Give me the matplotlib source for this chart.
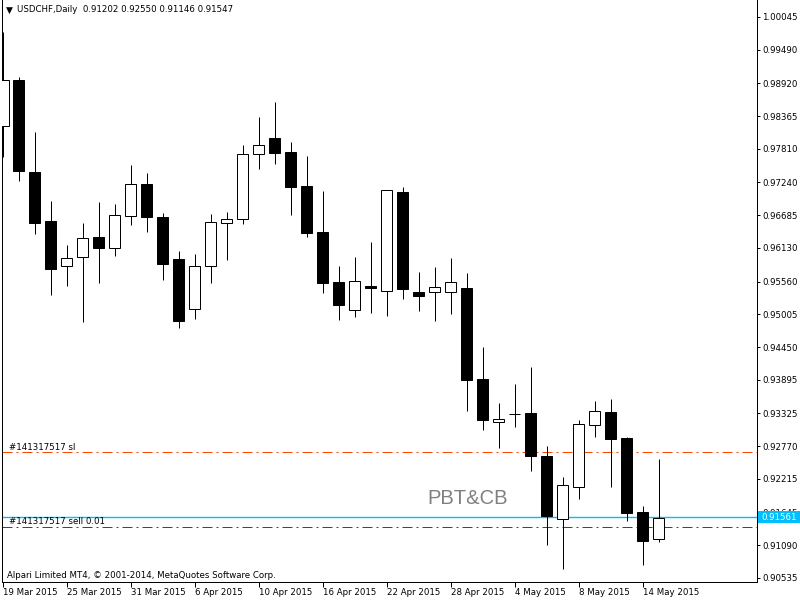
import matplotlib
matplotlib.use('Agg')
import matplotlib.pyplot as plt
from matplotlib.patches import Rectangle
from matplotlib.transforms import blended_transform_factory

# ---------------- data ----------------
dates = ['19 Mar 2015', '20 Mar 2015', '23 Mar 2015', '24 Mar 2015', '25 Mar 2015',
         '26 Mar 2015', '27 Mar 2015', '30 Mar 2015', '31 Mar 2015', '1 Apr 2015',
         '2 Apr 2015', '3 Apr 2015', '6 Apr 2015', '7 Apr 2015', '8 Apr 2015',
         '9 Apr 2015', '10 Apr 2015', '13 Apr 2015', '14 Apr 2015', '15 Apr 2015',
         '16 Apr 2015', '17 Apr 2015', '20 Apr 2015', '21 Apr 2015', '22 Apr 2015',
         '23 Apr 2015', '24 Apr 2015', '27 Apr 2015', '28 Apr 2015', '29 Apr 2015',
         '30 Apr 2015', '1 May 2015', '4 May 2015', '5 May 2015', '6 May 2015',
         '7 May 2015', '8 May 2015', '11 May 2015', '12 May 2015', '13 May 2015',
         '14 May 2015', '15 May 2015']

opens = [0.98197, 0.98977, 0.97417, 0.96587, 0.95824, 0.95977, 0.96316, 0.96129,
         0.96672, 0.97214, 0.96655, 0.95943, 0.95095, 0.95824, 0.96553, 0.96621,
         0.97723, 0.97994, 0.97757, 0.97180, 0.96400, 0.95553, 0.95078, 0.95485,
         0.95400, 0.97078, 0.95383, 0.95383, 0.95383, 0.95451, 0.93908, 0.93179,
         0.93320, 0.93332, 0.92603, 0.91535, 0.92078, 0.93129, 0.93349, 0.92908,
         0.91654, 0.91202]
highs = [0.99791, 0.99028, 0.98096, 0.96926, 0.96180, 0.96553, 0.96909, 0.96875,
         0.97536, 0.97401, 0.96722, 0.96078, 0.96027, 0.96706, 0.96739, 0.97875,
         0.98350, 0.98604, 0.97926, 0.97689, 0.97095, 0.95824, 0.95977, 0.96231,
         0.97112, 0.97163, 0.95722, 0.95807, 0.95960, 0.95705, 0.94451, 0.93502,
         0.93824, 0.94112, 0.92773, 0.92247, 0.93213, 0.93535, 0.93569, 0.92925,
         0.91756, 0.92550]
lows = [0.97672, 0.97265, 0.96366, 0.95332, 0.95485, 0.94875, 0.95536, 0.95994,
        0.96519, 0.96400, 0.95587, 0.94773, 0.94926, 0.95536, 0.95926, 0.96536,
        0.97468, 0.97553, 0.96689, 0.96316, 0.95366, 0.94909, 0.94959, 0.95027,
        0.94976, 0.95265, 0.95061, 0.94892, 0.95010, 0.93366, 0.93044, 0.92739,
        0.93095, 0.92349, 0.91094, 0.90688, 0.91874, 0.92925, 0.92078, 0.91501,
        0.90755, 0.91146]
closes = [0.98977, 0.97434, 0.96553, 0.95773, 0.95960, 0.96299, 0.96129, 0.96689,
          0.97214, 0.96655, 0.95858, 0.94892, 0.95824, 0.96570, 0.96621, 0.97723,
          0.97875, 0.97740, 0.97163, 0.96383, 0.95536, 0.95163, 0.95570, 0.95451,
          0.97112, 0.95434, 0.95315, 0.95468, 0.95553, 0.93891, 0.93213, 0.93230,
          0.93315, 0.92603, 0.91586, 0.92112, 0.93146, 0.93366, 0.92891, 0.91637,
          0.91162, 0.91547]

price_ticks = [1.00045, 0.99490, 0.98920, 0.98365, 0.97810, 0.97240, 0.96685,
               0.96130, 0.95560, 0.95005, 0.94450, 0.93895, 0.93325, 0.92770,
               0.92215, 0.91645, 0.91090, 0.90535]
price_tick_labels = ['1.00045', '0.99490', '0.98920', '0.98365', '0.97810', '0.97240',
                     '0.96685', '0.96130', '0.95560', '0.95005', '0.94450', '0.93895',
                     '0.93325', '0.92770', '0.92215', '0.91645', '0.91090', '0.90535']

sl_price = 0.92666
order_price = 0.91394
current_price = 0.91561
current_label = '0.91561'
title_text = 'USDCHF,Daily  0.91202 0.92550 0.91146 0.91547'
sl_text = '#141317517 sl'
order_text = '#141317517 sell 0.01'
watermark = 'PBT&CB'
copyright_text = 'Alpari Limited MT4, \u00a9 2001-2014, MetaQuotes Software Corp.'

# ---------------- figure ----------------
W, H = 800, 600
fig = plt.figure(figsize=(8, 6), dpi=100)
fig.patch.set_facecolor('white')
ax = fig.add_axes([2 / W, 18 / H, 755 / W, 582 / H])
ax.set_facecolor('white')

FS = 6.2
px = 0.72  # one pixel in points

n = len(opens)
xs = list(range(n))

# wicks
ax.vlines(xs, lows, highs, colors='black', linewidth=px, zorder=2)
# bodies
bw = 11 / 16
for x, o, c in zip(xs, opens, closes):
    bottom = min(o, c)
    height = abs(c - o)
    face = 'white' if c > o else 'black'
    ax.bar(x, height, bottom=bottom, width=bw, color=face, edgecolor='black',
           linewidth=px, zorder=3)

# horizontal order lines
dd = (0, (10, 4, 2, 4))
ax.axhline(sl_price, color='#FF4500', linewidth=px, linestyle=dd, zorder=1)
ax.axhline(order_price, color='#0A6E0A', linewidth=px, linestyle=dd, zorder=1)
ax.axhline(current_price, color='#00BFFF', linewidth=1.0, zorder=1.5)

ax.set_xlim(-1 / 16, 754 / 16)
ax.set_ylim(0.90467, 1.00333)

# spines
for s in ['left', 'right', 'bottom']:
    ax.spines[s].set_color('black')
    ax.spines[s].set_linewidth(px)
ax.spines['top'].set_visible(False)

# y axis on right
ax.yaxis.tick_right()
ax.set_yticks(price_ticks)
ax.set_yticklabels(price_tick_labels)
ax.tick_params(axis='y', which='both', direction='out', length=3 * px, width=px,
               pad=1.5, labelsize=FS, colors='black', left=False)

# x axis
tick_idx = list(range(0, n, 4))
ax.set_xticks(tick_idx)
ax.set_xticklabels([dates[i] for i in tick_idx])
ax.tick_params(axis='x', which='both', direction='out', length=5 * px, width=px,
               pad=0.5, labelsize=FS, colors='black')
for lbl in ax.get_xticklabels():
    lbl.set_horizontalalignment('left')

# texts inside the chart
fig.text(9.5 / W, 1 - 10.5 / H, '\u25bc', fontsize=6.5, ha='center', va='center', color='black')
fig.text(17 / W, 1 - 10 / H, title_text, fontsize=FS, ha='left', va='center', color='black')

tr = blended_transform_factory(fig.transFigure, ax.transData)
ax.text(9 / W, sl_price, sl_text, transform=tr, fontsize=FS, ha='left', va='bottom',
        color='black', zorder=4)
ax.text(9 / W, current_price, order_text, transform=tr, fontsize=FS, ha='left', va='top',
        color='black', zorder=4)

fig.text(467.5 / W, 1 - 498 / H, watermark, fontsize=14.5, family='Liberation Sans',
         color='#808080', ha='center', va='center')
fig.text(7 / W, 1 - 575 / H, copyright_text, fontsize=FS, ha='left', va='center',
         color='black')

# current price label box on the right axis (covers the 0.91645 tick label, as in MT4)
yc = ax.transData.transform((0, current_price))[1]
fig.patches.append(Rectangle((758 / W, (yc - 6) / H), 42 / W, 12 / H,
                             transform=fig.transFigure, facecolor='#00BFFF',
                             edgecolor='none', zorder=5))
fig.text(761 / W, yc / H, current_label, fontsize=FS, color='white', ha='left',
         va='center', zorder=6)

fig.savefig('out.png', dpi=100, facecolor='white')
